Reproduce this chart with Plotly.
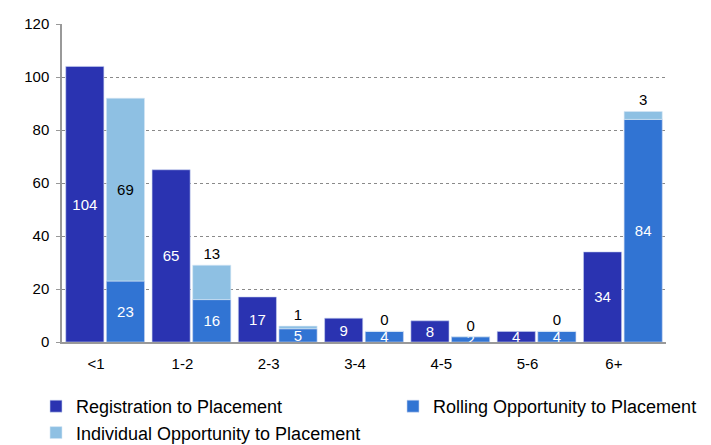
import plotly.graph_objects as go

categories = ["<1", "1-2", "2-3", "3-4", "4-5", "5-6", "6+"]
registration = [104, 65, 17, 9, 8, 4, 34]
rolling = [23, 16, 5, 4, 2, 4, 84]
individual = [69, 13, 1, 0, 0, 0, 3]
y_ticks = [0, 20, 40, 60, 80, 100, 120]

c_reg = "#2A33B1"
c_roll = "#3174D3"
c_ind = "#8EC0E3"

W, H = 711, 445
PL, PR, PT, PB = 62, 666, 24, 342  # plot area in pixels

ind_pos = ["inside" if v > 30 else "outside" for v in individual]

fig = go.Figure()
fig.add_trace(go.Bar(
    x=categories, y=registration, name="Registration to Placement",
    marker=dict(color=c_reg, line=dict(color="#c8d4f0", width=0.6)),
    offsetgroup="a", text=registration, textposition="inside", textangle=0,
    insidetextanchor="middle", textfont=dict(color="white"),
))
fig.add_trace(go.Bar(
    x=categories, y=rolling, name="Rolling Opportunity to Placement",
    marker=dict(color=c_roll, line=dict(color="#c8d4f0", width=0.6)),
    offsetgroup="b", text=rolling, textposition="inside", textangle=0,
    insidetextanchor="middle", textfont=dict(color="white"),
))
fig.add_trace(go.Bar(
    x=categories, y=individual, base=rolling, name="Individual Opportunity to Placement",
    marker=dict(color=c_ind, line=dict(color="#d8e8f5", width=0.6)),
    offsetgroup="b", text=individual, textposition=ind_pos, textangle=0,
    insidetextanchor="middle", textfont=dict(color="black"),
    outsidetextfont=dict(color="black"), insidetextfont=dict(color="black"),
    cliponaxis=False,
))

paper_h = H - PT
fig.update_layout(
    width=W, height=H,
    margin=dict(l=0, r=0, t=PT, b=0, autoexpand=False),
    paper_bgcolor="white", plot_bgcolor="white",
    barmode="group", bargap=0.058, bargroupgap=0.062,
    font=dict(family="Liberation Sans, Arial, sans-serif", size=15, color="black"),
    uniformtext=dict(minsize=15, mode="show"),
    showlegend=True,
    legend=dict(
        orientation="h", x=36 / W, xanchor="left", y=(H - 388) / paper_h, yanchor="top",
        font=dict(family="Liberation Sans, Arial", size=18),
        entrywidth=312, traceorder="normal", itemwidth=30, tracegroupgap=0,
    ),
)
fig.update_yaxes(
    domain=[(H - PB) / paper_h, 1],
    range=[0, 120], tickvals=y_ticks, showgrid=True, gridcolor="#8a8a8a",
    griddash="dot", gridwidth=1, showline=True, linecolor="#999999", linewidth=1.5,
    ticks="outside", ticklen=4, tickcolor="#999999", zeroline=False,
    tickfont=dict(size=15), automargin=False, ticklabelstandoff=4,
)
fig.update_xaxes(
    domain=[PL / W, PR / W],
    showline=True, linecolor="#999999", linewidth=1.5, ticks="",
    tickfont=dict(size=15), ticklabelshift=-9, ticklabelstandoff=7, automargin=False,
)

fig.write_html("out.html")
